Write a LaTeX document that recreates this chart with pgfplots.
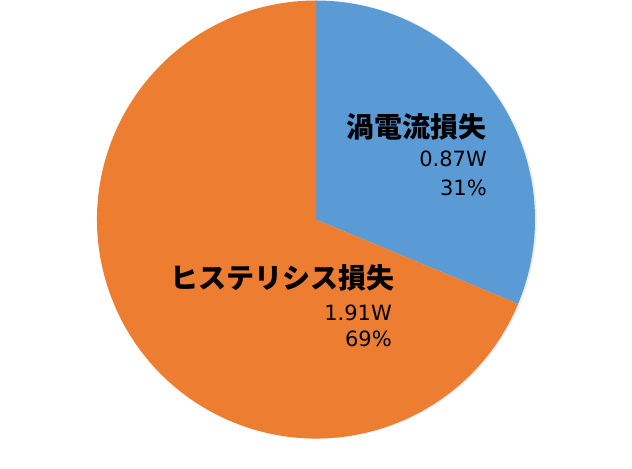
\documentclass[border=0pt]{standalone}
\usepackage{pgfplots}
\pgfplotsset{compat=1.18}
\usepackage{fontspec}
\setmainfont{DejaVu Sans}
\newfontfamily\jpb{Noto Sans CJK JP Black}

% loss values [W]
\def\eddy{0.87}
\def\hyst{1.91}

\definecolor{pieblue}{HTML}{5B9BD5}
\definecolor{pieorange}{HTML}{ED7D31}

\begin{document}
\begin{tikzpicture}
\begin{axis}[
    x=1bp, y=1bp,
    xmin=0, xmax=632, ymin=0, ymax=439,
    hide axis,
    scale only axis,
    clip=false,
]
    \pgfmathsetmacro{\total}{\eddy+\hyst}
    \pgfmathsetmacro{\aend}{90-360*\eddy/\total}
    % invisible frame for the page size
    \path (axis cs:0,0) rectangle (axis cs:632,439);
    % faint shadow
    \fill[black, opacity=0.07] (axis cs:317.8,219.2) circle[radius=219bp];
    % slices
    \fill[pieblue] (axis cs:316,219.5) -- ++(90:219bp) arc[start angle=90, end angle=\aend, radius=219bp] -- cycle;
    \fill[pieorange] (axis cs:316,219.5) -- ++(\aend:219bp) arc[start angle=\aend, end angle=-270, radius=219bp] -- cycle;
    % labels
    \node[anchor=base east, inner sep=0pt, font=\jpb\fontsize{28bp}{30bp}\selectfont] at (axis cs:487,302) {渦電流損失};
    \node[anchor=base east, inner sep=0pt, font=\fontsize{21bp}{24bp}\selectfont] at (axis cs:487,272.5) {0.87W};
    \node[anchor=base east, inner sep=0pt, font=\fontsize{21bp}{24bp}\selectfont] at (axis cs:487,244) {31\%};
    \node[anchor=base east, inner sep=0pt, font=\jpb\fontsize{28bp}{30bp}\selectfont] at (axis cs:395,151) {ヒステリシス損失};
    \node[anchor=base east, inner sep=0pt, font=\fontsize{21bp}{24bp}\selectfont] at (axis cs:392,119) {1.91W};
    \node[anchor=base east, inner sep=0pt, font=\fontsize{21bp}{24bp}\selectfont] at (axis cs:392,92.5) {69\%};
\end{axis}
\end{tikzpicture}
\end{document}
